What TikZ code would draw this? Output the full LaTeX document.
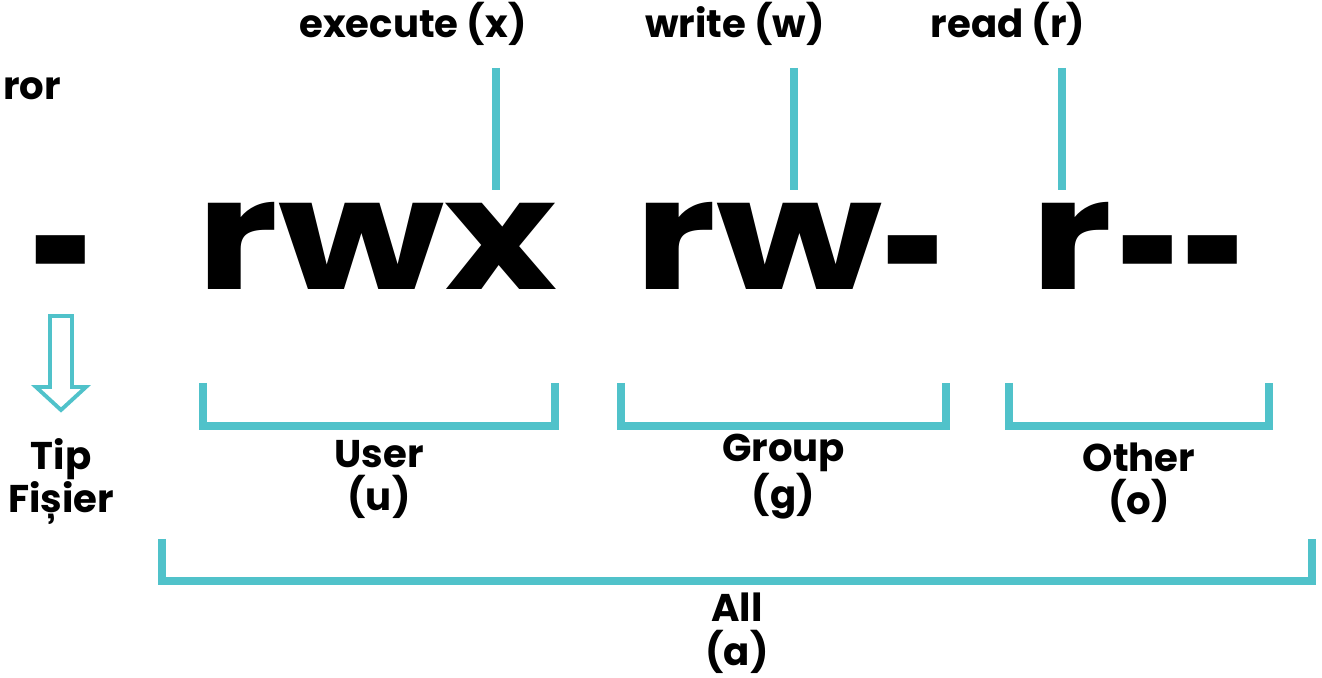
\documentclass[tikz,border=0pt]{standalone}
\usepackage{fontspec}
\usepackage{graphicx}
\setmainfont{Poppins}
\definecolor{teal}{HTML}{50C2CA}
% chunky dash as in the mode string
\newcommand\hy{\raisebox{-17.4pt}{\scalebox{0.72}[1.3]{-}}}
\newcommand\wide[1]{\scalebox{1.24}[1]{#1}}
\tikzset{
    lbl/.style={font=\fontsize{22}{25}\selectfont\bfseries, inner sep=0pt, align=center},
    big/.style={font=\fontsize{88}{90}\selectfont\bfseries, inner sep=0pt, anchor=base west},
    bar/.style={teal, line width=5pt},
    brk/.style={teal, line width=4.3pt, line join=miter}
}
\begin{document}
\begin{tikzpicture}[x=0.02cm, y=-0.02cm]
    \useasboundingbox (0,0) rectangle (1322,678);
    \node[lbl, anchor=base west] (err) at (3,100) {ror};

    % the mode string
    \node[big] (t) at (30,290) {\hy};
    \node[big] (u) at (196,290) {\wide{rwx}};
    \node[big] (g) at (634,290) {\wide{rw}\hy};
    \node[big] (o) at (1030,290) {\wide{r}\kern3pt\hy\hy};

    % what each letter means
    \foreach \name/\x/\c/\txt in {ex/496/413/execute (x), wr/794/735/write (w), rd/1062/1008/read (r)}{
        \node[lbl, anchor=base] (\name) at (\c,38) {\txt};
        \coordinate (\name a) at (\x,68);
        \coordinate (\name b) at (\x,190);
        \draw[bar] (\name a) -- (\name b);
    }

    % file type arrow
    \draw[teal, line width=2.2pt, fill=white, line join=miter]
        (50,316) -- (72,316) -- (72,387) -- (86,387) -- (61,410) -- (36,387) -- (50,387) -- cycle;
    \node[lbl, anchor=base] (tip) at (61,513) {Tip\\Fișier};

    % user, group, other
    \foreach \name/\l/\r/\y/\txt in {us/203/555/511/User\\(u), gr/621/946/509/Group\\(g), ot/1009/1269/515/Other\\(o)}{
        \coordinate (\name l) at (\l,383);
        \coordinate (\name r) at (\r,383);
        \draw[brk] (\name l) -- ++(0,43) -| (\name r);
        \node[lbl, anchor=base] (\name) at ({(\l+\r)/2},\y) {\txt};
    }
    \coordinate (alll) at (162,539);
    \coordinate (allr) at (1312,539);
    \draw[brk] (alll) -- ++(0,42) -| (allr);
    \node[lbl, anchor=base] (all) at (737,665) {All\\(a)};
\end{tikzpicture}
\end{document}
